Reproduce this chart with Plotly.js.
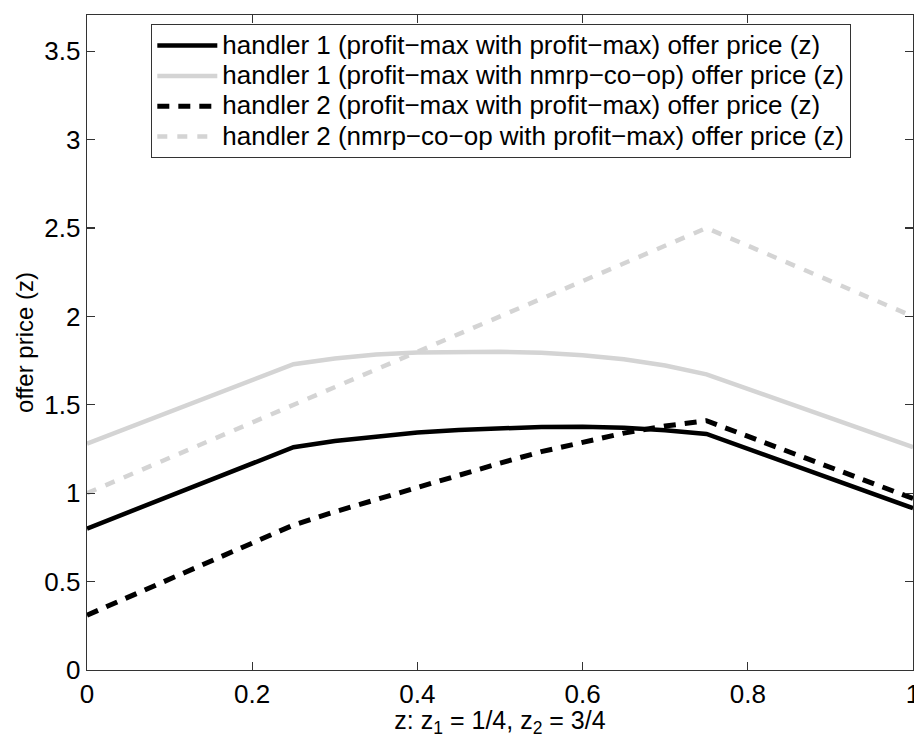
<!DOCTYPE html>
<html>
<head>
<meta charset="utf-8">
<script src="https://cdn.plot.ly/plotly-3.0.1.min.js"></script>
<style>html,body{margin:0;padding:0;background:#fff;}#chart{width:914px;height:738px;}</style>
</head>
<body>
<div id="chart"></div>
<script>
// z grid
var zGrid = [0, 0.25, 0.3, 0.35, 0.4, 0.45, 0.5, 0.55, 0.6, 0.65, 0.7, 0.75, 1];
var h1ProfitProfit = [0.80, 1.26, 1.295, 1.322, 1.343, 1.358, 1.369, 1.375, 1.376, 1.37, 1.356, 1.335, 0.915];
var h1ProfitNmrp   = [1.28, 1.73, 1.762, 1.785, 1.796, 1.80, 1.80, 1.794, 1.781, 1.758, 1.722, 1.672, 1.26];
var h2ProfitProfit = [0.31, 0.82, 0.895, 0.965, 1.035, 1.105, 1.17, 1.235, 1.29, 1.34, 1.38, 1.41, 0.97];
var h2NmrpProfit   = [1.00, 1.50, 1.60, 1.70, 1.80, 1.90, 2.00, 2.10, 2.20, 2.30, 2.40, 2.50, 2.00];
var seriesNames = [
  "handler 1 (profit\u2212max with profit\u2212max) offer price (z)",
  "handler 1 (profit\u2212max with nmrp\u2212co\u2212op) offer price (z)",
  "handler 2 (profit\u2212max with profit\u2212max) offer price (z)",
  "handler 2 (nmrp\u2212co\u2212op with profit\u2212max) offer price (z)"
];
var xTicks = [0, 0.2, 0.4, 0.6, 0.8, 1];
var xTickText = ["0", "0.2", "0.4", "0.6", "0.8", "1"];
var yTicks = [0, 0.5, 1, 1.5, 2, 2.5, 3, 3.5];
var yTickText = ["0", "0.5", "1", "1.5", "2", "2.5", "3", "3.5"];

var FONT = "Liberation Sans, Arial, Helvetica, sans-serif";
var black = "#000000", gray = "#d4d4d4";

function legendLabel(s) {
  return '<span style="font-size:26px">' + s + '</span>';
}

var traces = [
  {x: zGrid, y: h1ProfitProfit, name: legendLabel(seriesNames[0]), mode: "lines",
   line: {color: black, width: 4.5}},
  {x: zGrid, y: h1ProfitNmrp, name: legendLabel(seriesNames[1]), mode: "lines",
   line: {color: gray, width: 4.5}},
  {x: zGrid, y: h2ProfitProfit, name: legendLabel(seriesNames[2]), mode: "lines",
   line: {color: black, width: 5, dash: "12px,9px"}},
  {x: zGrid, y: h2NmrpProfit, name: legendLabel(seriesNames[3]), mode: "lines",
   line: {color: gray, width: 4.5, dash: "10px,10px"}}
];

var axisCommon = {
  showgrid: false, zeroline: false, showline: true, linecolor: "#333",
  linewidth: 1.3, mirror: "allticks", ticks: "inside", ticklen: 8,
  tickcolor: "#333", tickwidth: 1.3, ticklabeloverflow: "allow",
  tickfont: {family: FONT, size: 26, color: "#000"}
};

var layout = {
  width: 914, height: 738,
  margin: {l: 87, r: 1, t: 15, b: 68},
  paper_bgcolor: "#fff", plot_bgcolor: "#fff",
  font: {family: FONT, color: "#000"},
  showlegend: true,
  legend: {
    x: 0.0775, y: 0.986, xanchor: "left", yanchor: "top",
    bgcolor: "#fff", bordercolor: "#333", borderwidth: 1.3,
    font: {family: FONT, size: 21, color: "#000"},
    itemwidth: 60, tracegroupgap: 0
  },
  xaxis: Object.assign({}, axisCommon, {
    range: [0, 1], tickvals: xTicks, ticktext: xTickText,
    title: {text: "z: z<sub>1</sub> = 1/4, z<sub>2</sub> = 3/4",
            font: {family: FONT, size: 25, color: "#000"}, standoff: 0}
  }),
  yaxis: Object.assign({}, axisCommon, {
    range: [0, 3.705], tickvals: yTicks, ticktext: yTickText,
    title: {text: "offer price (z)", font: {family: FONT, size: 24, color: "#000"}, standoff: 4}
  })
};

Plotly.newPlot("chart", traces, layout, {displayModeBar: false, staticPlot: true});
</script>
</body>
</html>
